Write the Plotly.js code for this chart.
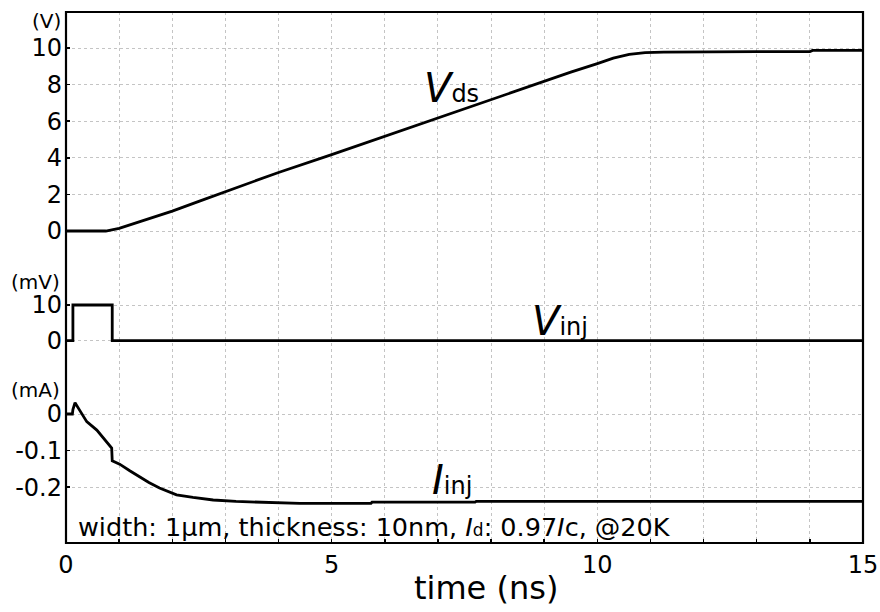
<!DOCTYPE html>
<html>
<head>
<meta charset="utf-8">
<script src="https://cdn.plot.ly/plotly-3.0.1.min.js"></script>
<style>
  html, body { margin: 0; padding: 0; background: #fff; }
  #chart { width: 880px; height: 612px; }
</style>
</head>
<body>
<div id="chart"></div>
<script>
// Drain voltage ramp V_ds (V)
const vdsTime = [0, 0.5, 0.75, 1.0, 1.25, 1.5, 2.0, 2.5, 3.0, 4.0, 5.0, 6.0, 7.0, 8.0, 9.0, 9.5, 10.0, 10.3, 10.6, 10.9, 11.25, 12.0, 13.0, 14.0, 14.05, 15.0];
const vdsVolt = [0, 0, 0, 0.14, 0.38, 0.62, 1.09, 1.62, 2.16, 3.2, 4.17, 5.18, 6.18, 7.18, 8.2, 8.68, 9.15, 9.45, 9.65, 9.75, 9.78, 9.8, 9.8, 9.8, 9.87, 9.87];

// Injection pulse V_inj (mV)
const vinjTime = [0, 0.13, 0.13, 0.87, 0.87, 15];
const vinjMilliVolt = [0, 0, 10, 10, 0, 0];

// Injected current I_inj (mA)
const iinjTime = [0, 0.12, 0.13, 0.17, 0.25, 0.39, 0.58, 0.7, 0.86, 0.87, 0.9, 1.01, 1.2, 1.39, 1.56, 1.76, 2.08, 2.39, 2.77, 3.2, 3.64, 4.4, 5.74, 5.76, 7.7, 7.72, 15];
const iinjMilliAmp = [0, 0, 0.012, 0.031, 0.012, -0.021, -0.044, -0.066, -0.093, -0.128, -0.13, -0.137, -0.155, -0.172, -0.187, -0.202, -0.221, -0.228, -0.235, -0.239, -0.241, -0.244, -0.244, -0.241, -0.241, -0.239, -0.239];

// Axis ticks
const timeTicks = [0,1,2,3,4,5,6,7,8,9,10,11,12,13,14,15];
const timeTickText = timeTicks.map(t => (t % 5 === 0 ? String(t) : ''));
const vdsTicks = [0, 2, 4, 6, 8, 10];
const vinjTicks = [0, 10];
const iinjTicks = [0, -0.1, -0.2];
const iinjTickText = ['0', '-0.1', '-0.2'];

const FONT = 'DejaVu Sans, Arial, sans-serif';
const lineStyle = { color: '#000', width: 2.8 };

const traces = [
  { x: vdsTime, y: vdsVolt, xaxis: 'x', yaxis: 'y', mode: 'lines', line: lineStyle, name: 'Vds' },
  { x: vinjTime, y: vinjMilliVolt, xaxis: 'x', yaxis: 'y2', mode: 'lines', line: lineStyle, name: 'Vinj' },
  { x: iinjTime, y: iinjMilliAmp, xaxis: 'x', yaxis: 'y3', mode: 'lines', line: lineStyle, name: 'Iinj' }
];

const grid = { showgrid: true, gridcolor: '#c4c4c4', griddash: 'dot', gridwidth: 1 };
const yCommon = Object.assign({
  anchor: 'x', zeroline: false, showline: false,
  ticks: 'inside', ticklen: 4, tickwidth: 1.5, tickcolor: '#000',
  tickfont: { family: FONT, size: 24, color: '#000' },
  ticklabelstandoff: 3
}, grid);

const unitFont = { family: FONT, size: 20, color: '#000' };
const labelFont = { family: FONT, size: 40, color: '#000' };

const layout = {
  width: 880, height: 612,
  margin: { l: 66, r: 17, t: 12, b: 69 },
  paper_bgcolor: '#fff', plot_bgcolor: '#fff',
  showlegend: false,
  font: { family: FONT, color: '#000' },
  xaxis: Object.assign({
    anchor: 'y3', range: [0, 15], zeroline: false, showline: false,
    tickmode: 'array', tickvals: timeTicks, ticktext: timeTickText,
    ticks: 'inside', ticklen: 4, tickwidth: 1.5, tickcolor: '#000',
    tickfont: { family: FONT, size: 24, color: '#000' },
    ticklabelstandoff: 5
  }, grid),
  yaxis: Object.assign({}, yCommon, {
    domain: [0.5235, 1], range: [-1.858, 11.967],
    tickmode: 'array', tickvals: vdsTicks
  }),
  yaxis2: Object.assign({}, yCommon, {
    domain: [0.3164, 0.5235], range: [-9.61, 21.2],
    tickmode: 'array', tickvals: vinjTicks
  }),
  yaxis3: Object.assign({}, yCommon, {
    domain: [0, 0.3164], range: [-0.3525, 0.1066],
    tickmode: 'array', tickvals: iinjTicks, ticktext: iinjTickText
  }),
  shapes: [
    { type: 'rect', xref: 'paper', yref: 'paper', x0: 0, x1: 1, y0: 0, y1: 1,
      line: { color: '#000', width: 2.2 }, fillcolor: 'rgba(0,0,0,0)' }
  ],
  annotations: [
    // unit labels above each panel's ticks, right-aligned with the tick labels
    { text: '(V)', xref: 'paper', yref: 'paper', x: 0, xshift: -3, y: 0.983, xanchor: 'right', yanchor: 'middle',
      showarrow: false, font: unitFont },
    { text: '(mV)', xref: 'paper', yref: 'paper', x: 0, xshift: -4, y: 0.4915, xanchor: 'right', yanchor: 'middle',
      showarrow: false, font: unitFont },
    { text: '(mA)', xref: 'paper', yref: 'paper', x: 0, xshift: -4, y: 0.288, xanchor: 'right', yanchor: 'middle',
      showarrow: false, font: unitFont },
    // trace labels
    { text: '<i>V</i><span style="font-size:24px">ds</span>', xref: 'paper', yref: 'paper',
      x: 0.484, y: 0.857, xanchor: 'center', yanchor: 'middle', showarrow: false, font: labelFont },
    { text: '<i>V</i><span style="font-size:24px">inj</span>', xref: 'paper', yref: 'paper',
      x: 0.62, y: 0.418, xanchor: 'center', yanchor: 'middle', showarrow: false, font: labelFont },
    { text: '<i>I</i><span style="font-size:24px">inj</span>', xref: 'paper', yref: 'paper',
      x: 0.484, y: 0.119, xanchor: 'center', yanchor: 'middle', showarrow: false, font: labelFont },
    // simulation conditions
    { text: 'width: 1\u03bcm, thickness: 10nm, <i>I</i><span style="font-size:17px">d</span>: 0.97<i>I</i>c, @20K',
      xref: 'paper', yref: 'paper', x: 0.0125, y: 0.03, xanchor: 'left', yanchor: 'middle',
      showarrow: false, font: { family: FONT, size: 25.5, color: '#000' } },
    // time axis title
    { text: 'time (ns)', xref: 'paper', yref: 'paper', x: 0.527, y: -0.0847,
      xanchor: 'center', yanchor: 'middle', showarrow: false,
      font: { family: FONT, size: 32, color: '#000' } }
  ]
};

Plotly.newPlot('chart', traces, layout, { displayModeBar: false, staticPlot: true });
</script>
</body>
</html>
